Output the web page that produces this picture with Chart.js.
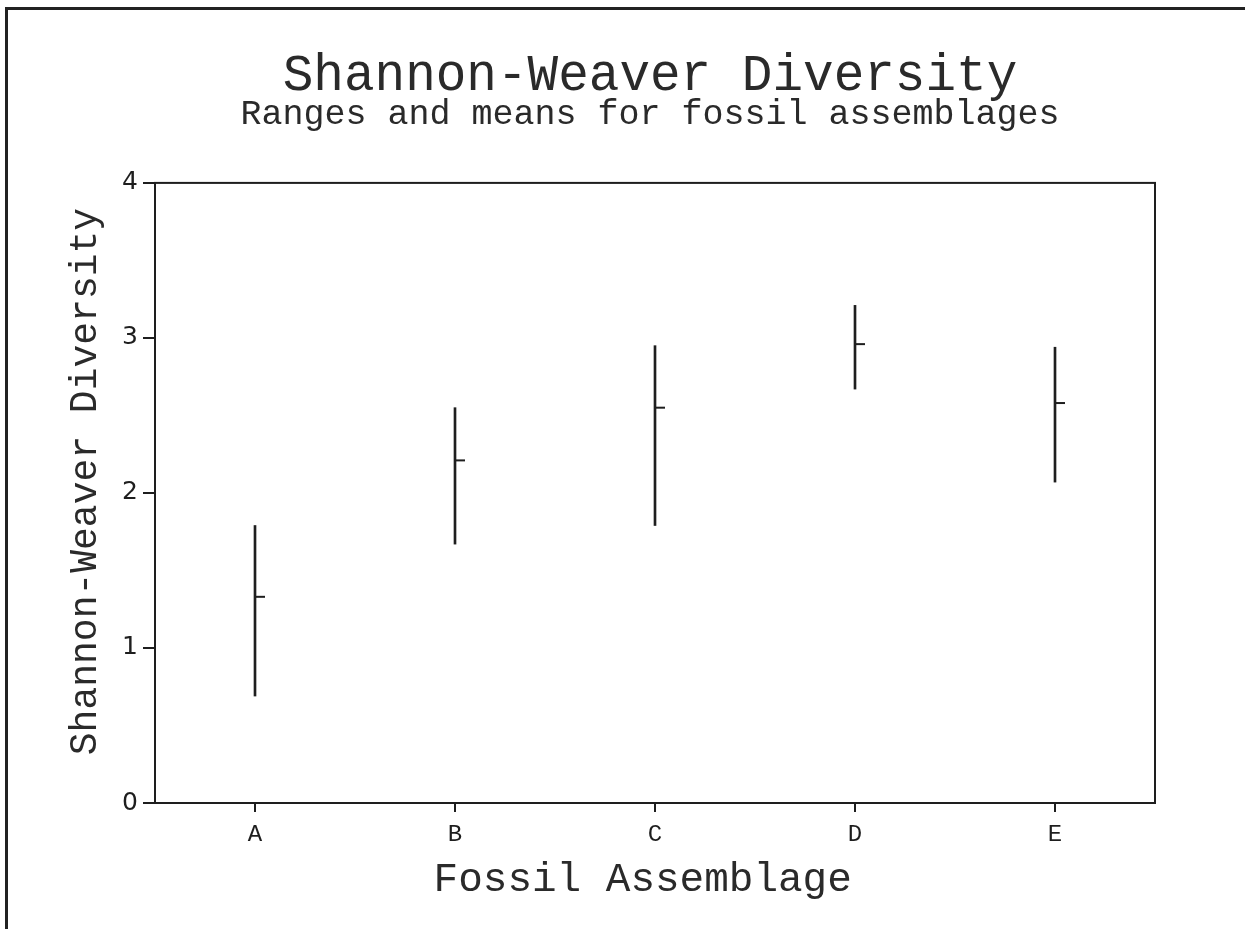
<!DOCTYPE html>
<html>
<head>
<meta charset="utf-8">
<script src="https://cdn.jsdelivr.net/npm/chart.js@4.4.1/dist/chart.umd.min.js"></script>
<style>
  html, body { margin: 0; padding: 0; background: #fff; }
  #wrap { position: relative; width: 1245px; height: 929px; }
  #frame { position: absolute; left: 5px; top: 7px; right: 0; bottom: 0; border-left: 3px solid #222; border-top: 3px solid #222; pointer-events: none; }
  canvas#myChart { position: absolute; left: 0; top: 0; }
</style>
</head>
<body>
<div id="wrap">
  <canvas id="myChart" width="1245" height="929"></canvas>
  <div id="frame"></div>
</div>
<script>
const assemblages = ["A", "B", "C", "D", "E"];
const diversityLow = [0.69, 1.67, 1.79, 2.67, 2.07];
const diversityHigh = [1.79, 2.55, 2.95, 3.21, 2.94];
const diversityMean = [1.33, 2.21, 2.55, 2.96, 2.58];
const yTicks = [0, 1, 2, 3, 4];

const ink = "#1e1e1e";
const mono = "'Liberation Mono', 'Courier New', monospace";

// floating bars [low, high] give the range lines
const ranges = assemblages.map((a, i) => [diversityLow[i], diversityHigh[i]]);

// short tick to the right of each range line for the mean, plus the box around the plot
const meanTicks = {
  id: "meanTicks",
  afterDatasetsDraw(chart) {
    const { ctx, chartArea, scales } = chart;
    ctx.save();
    ctx.strokeStyle = ink;
    ctx.lineWidth = 2;
    ctx.strokeRect(chartArea.left, chartArea.top, chartArea.right - chartArea.left, chartArea.bottom - chartArea.top);
    diversityMean.forEach((m, i) => {
      const x = scales.x.getPixelForValue(i);
      const y = scales.y.getPixelForValue(m);
      ctx.beginPath();
      ctx.moveTo(x, y);
      ctx.lineTo(x + 10, y);
      ctx.stroke();
    });
    ctx.restore();
  },
};

const diversityChart = {
  type: "bar",
  data: {
    labels: assemblages,
    datasets: [
      {
        label: "Range",
        data: ranges,
        backgroundColor: ink,
        barThickness: 2,
        borderWidth: 0,
      },
    ],
  },
  options: {
    responsive: false,
    animation: false,
    layout: { padding: { left: 55, right: 0, top: 0, bottom: 0 } },
    plugins: {
      legend: { display: false },
      tooltip: { enabled: false },
      title: {
        display: true,
        text: "Shannon-Weaver Diversity",
        color: "#2a2a2a",
        font: { family: mono, size: 51, weight: "normal", lineHeight: 0.9 },
        padding: { top: 54, bottom: 0 },
      },
      subtitle: {
        display: true,
        text: "Ranges and means for fossil assemblages",
        color: "#2a2a2a",
        font: { family: mono, size: 35, weight: "normal", lineHeight: 0.8 },
        padding: { top: 1, bottom: 54 },
      },
    },
    scales: {
      x: {
        offset: true,
        grid: { display: true, drawOnChartArea: false, drawTicks: true, tickLength: 9, color: ink, lineWidth: 2, offset: false },
        border: { display: true, color: ink, width: 2 },
        ticks: { color: ink, font: { family: mono, size: 24 }, padding: 8, maxRotation: 0 },
        title: {
          display: true,
          text: "Fossil Assemblage ",
          color: "#2a2a2a",
          font: { family: mono, size: 41 },
          padding: { top: 0, bottom: 24 },
        },
        afterFit: (scale) => {
          scale.height = 126;
        },
      },
      y: {
        min: 0,
        max: 4,
        afterBuildTicks: (scale) => {
          scale.ticks = yTicks.map((v) => ({ value: v }));
        },
        grid: { display: true, drawOnChartArea: false, drawTicks: true, tickLength: 12, color: ink, lineWidth: 2 },
        border: { display: true, color: ink, width: 2 },
        ticks: { color: ink, font: { family: "'DejaVu Sans', sans-serif", size: 25 }, padding: 5 },
        title: {
          display: true,
          text: " Shannon-Weaver Diversity",
          color: "#2a2a2a",
          font: { family: mono, size: 38 },
          padding: { top: 8, bottom: 0 },
        },
        afterFit: (scale) => {
          scale.width = 100;
        },
      },
      // empty axis on the right, only reserves the margin
      yRight: {
        position: "right",
        display: true,
        grid: { display: false },
        border: { display: false },
        ticks: { display: false },
        afterFit: (scale) => {
          scale.width = 90;
        },
      },
    },
  },
  plugins: [meanTicks],
};

const ctx = document.querySelector("canvas#myChart").getContext("2d");
const myChart = new Chart(ctx, diversityChart);
</script>
</body>
</html>
